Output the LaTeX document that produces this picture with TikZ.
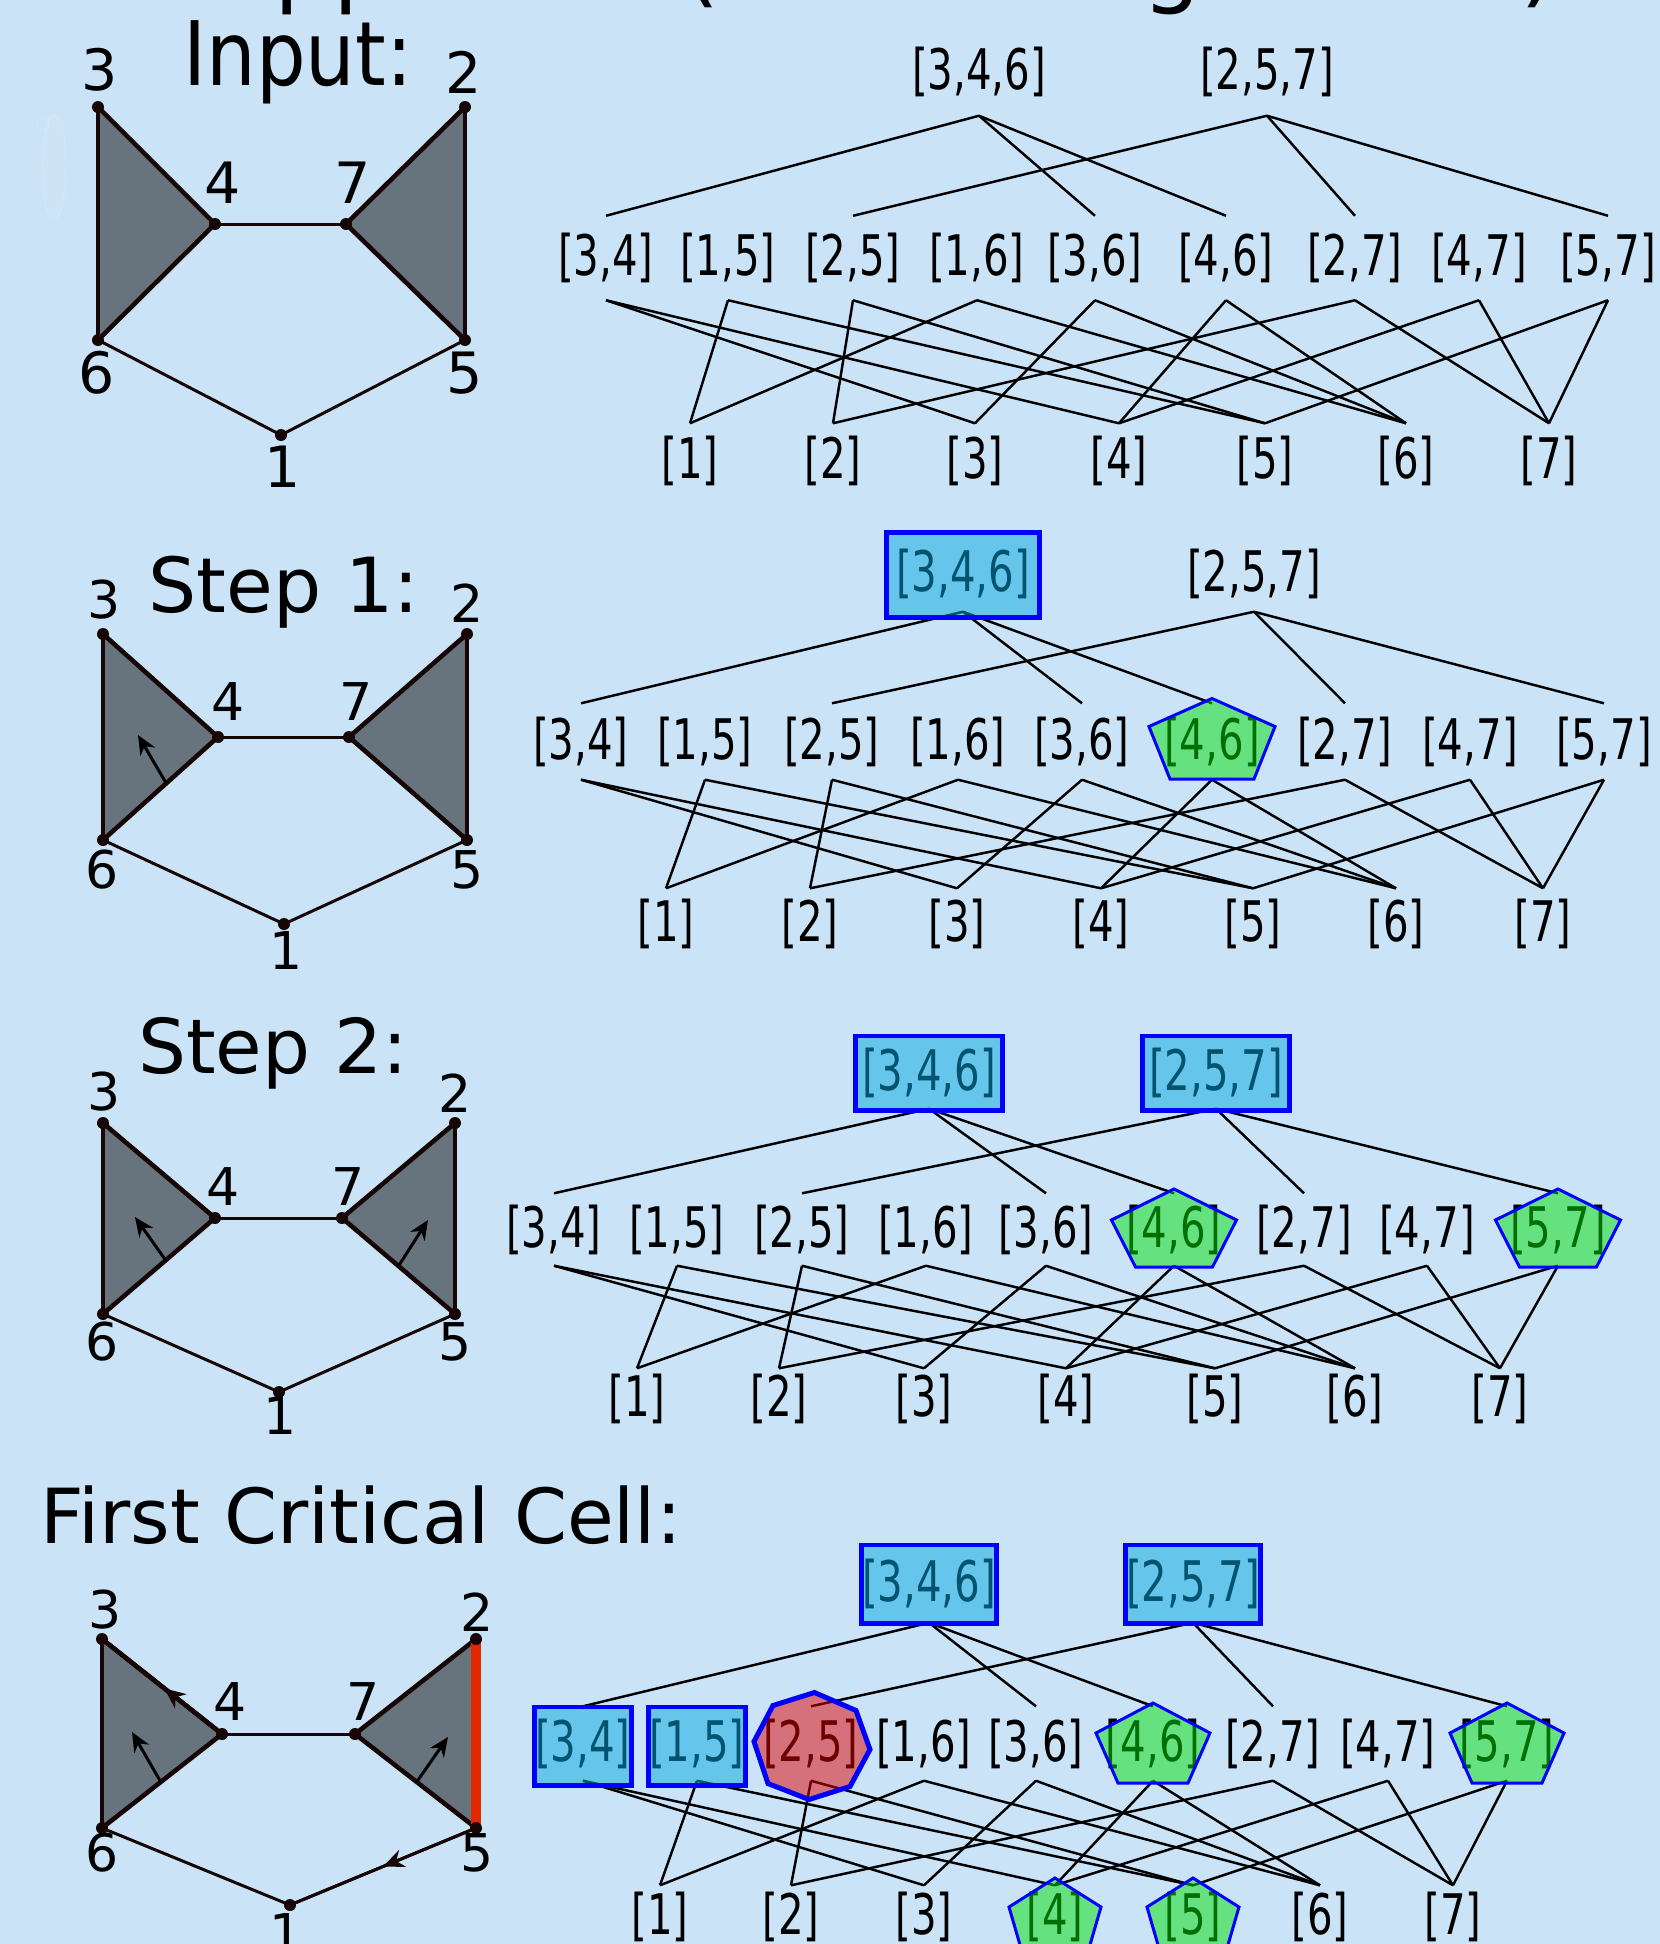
\documentclass[tikz,border=0pt]{standalone}
\usepackage{fontspec}
\setmainfont{DejaVu Sans}
\newfontfamily\hfont[FakeStretch=0.72]{DejaVu Sans}
\newfontfamily\ifont[FakeStretch=0.88]{DejaVu Sans}
\usetikzlibrary{arrows.meta,decorations.markings,calc}
\definecolor{bg}{RGB}{203,227,246}
\definecolor{tri}{RGB}{103,115,125}
\definecolor{edg}{RGB}{22,6,6}
\definecolor{boxfill}{RGB}{0,168,225}
\definecolor{pentfill}{RGB}{0,224,10}
\definecolor{heptfill}{RGB}{224,0,0}
\definecolor{critred}{RGB}{226,40,0}
\pgfdeclarelayer{bgcolor}
\pgfdeclarelayer{background}
\pgfsetlayers{bgcolor,background,main}
\newcommand\hasseedges[1]{%
  \foreach \e/\v in {34/3,34/4,15/1,15/5,25/2,25/5,16/1,16/6,36/3,36/6,46/4,46/6,27/2,27/7,47/4,47/7,57/5,57/7}{\draw[hedge] (#1M\e.south) -- (#1B\v.north);}
  \foreach \e in {34,36,46}{\draw[hedge] (#1T346.south) -- (#1M\e.north);}
  \foreach \e in {25,27,57}{\draw[hedge] (#1T257.south) -- (#1M\e.north);}
}
\newcommand\gedges[1]{%
  \begin{pgfonlayer}{background}
  \fill[tri] (#1V3.center) -- (#1V4.center) -- (#1V6.center) -- cycle;
  \fill[tri] (#1V2.center) -- (#1V7.center) -- (#1V5.center) -- cycle;
  \foreach \p/\q in {3/4,4/6,6/3,2/7,7/5,5/2}{\draw[triedge] (#1V\p.center) -- (#1V\q.center);}
  \foreach \p/\q in {4/7,6/1,1/5}{\draw[thinedge] (#1V\p.center) -- (#1V\q.center);}
  \end{pgfonlayer}
}
% pentagon: node, top y, half width, side y, bottom y, bottom half width
\newcommand\pent[6]{\draw[pentsty] ($(#1)+(0,#2)$) -- ($(#1)+(#3,#4)$) -- ($(#1)+(#6,#5)$) -- ($(#1)+(-#6,#5)$) -- ($(#1)+(-#3,#4)$) -- cycle;}
\begin{document}
\begin{tikzpicture}[x=0.01cm,y=-0.01cm,
  hl/.style={font=\hfont\fontsize{15.9}{18}\selectfont, inner sep=0pt},
  hnode/.style={hl, minimum height=#1},
  hedge/.style={line width=0.7pt, black},
  vdot/.style={circle, fill=edg, inner sep=0pt, minimum size=0.12cm},
  vlabA/.style={font=\fontsize{16.2}{18}\selectfont, inner sep=0pt},
  vlab/.style={font=\fontsize{14.8}{17}\selectfont, inner sep=0pt},
  triedge/.style={line width=1.3pt, edg},
  thinedge/.style={line width=0.85pt, edg},
  garrow/.style={line width=0.85pt, black, -{Stealth[length=5.5pt,width=4.8pt]}},
  midarrow/.style={postaction={decorate}, decoration={markings, mark=at position #1 with {\arrow{Stealth[length=6pt,width=5.2pt]}}}},
  hboxsty/.style={draw=blue, line width=1.42pt, fill=boxfill, fill opacity=0.5, draw opacity=1, inner sep=0pt},
  pentsty/.style={draw=blue, line width=0.85pt, fill=pentfill, fill opacity=0.5, draw opacity=1, line join=miter},
  heptsty/.style={draw=blue, line width=1.42pt, fill=heptfill, fill opacity=0.5, draw opacity=1},
  ttl/.style={inner sep=0pt, anchor=base}
]
\begin{pgfonlayer}{bgcolor}
\fill[bg] (0,0) rectangle (1660,1944);
\end{pgfonlayer}
\useasboundingbox (0,0) rectangle (1660,1944);

% title, mostly above the page (only descenders show)
\node[inner sep=0pt, anchor=base west, font=\fontsize{26.5}{28}\selectfont] (title) at (210,-5) {Approach (\kern0.18em Removing Faces\kern0.32em)};

% faint mark
\draw[white, draw opacity=0.12, fill=white, fill opacity=0.05, line width=0.4pt] (54,167) ellipse [x radius=0.12cm, y radius=0.52cm];
\draw[white, draw opacity=0.12, line width=0.4pt] (43,124) circle [radius=0.06cm];

% ================= Panel A: Input =================
\node[ttl, font=\ifont\fontsize{25.3}{28}\selectfont] (ttlA) at (298,85) {Input:};
\foreach \v/\x/\y in {1/281/435,2/465/107,3/98/107,4/215/224,5/465/340,6/98/340,7/346/224}{\node[vdot] (aV\v) at (\x,\y) {};}
\foreach \v/\x/\y in {1/283/467,2/464/72,3/100/70,4/223/183,5/465/373,6/97/373,7/353/183}{\node[vlabA] (aL\v) at (\x,\y) {\v};}
\gedges{a}

\node[hnode=0.86cm] (aT346) at (979,72) {[3,4,6]};
\node[hnode=0.86cm] (aT257) at (1267,72) {[2,5,7]};
\foreach \p/\q/\x in {3/4/606,1/5/728,2/5/853,1/6/977,3/6/1095,4/6/1226,2/7/1355,4/7/1479,5/7/1608}{\node[hnode=0.83cm] (aM\p\q) at (\x,258) {[\p,\q]};}
\foreach \v/\x in {1/690,2/833,3/975,4/1119,5/1265,6/1406,7/1549}{\node[hnode=0.74cm] (aB\v) at (\x,461) {[\v]};}
\hasseedges{a}

% ================= Panel B: Step 1 =================
\node[ttl, font=\fontsize{21.6}{24}\selectfont] (ttlB) at (284,612) {Step 1:};
\foreach \v/\x/\y in {1/284/924,2/467/634,3/103/634,4/218/737,5/467/840,6/103/840,7/349/737}{\node[vdot] (bV\v) at (\x,\y) {};}
\foreach \v/\x/\y in {1/286/951,2/467/603,3/104/600,4/228/702,5/467/870,6/102/870,7/356/702}{\node[vlab] (bL\v) at (\x,\y) {\v};}
\gedges{b}
\coordinate (bA1s) at ($(bV4)!0.45!(bV6)$);
\coordinate (bA1e) at (138,735);
\draw[garrow] (bA1s) -- (bA1e);

\node[hnode=0.74cm] (bT346) at (963,574) {[3,4,6]};
\node[hnode=0.74cm] (bT257) at (1254,574) {[2,5,7]};
\foreach \p/\q/\x in {3/4/581,1/5/705,2/5/832,1/6/958,3/6/1082,4/6/1212,2/7/1345,4/7/1470,5/7/1604}{\node[hnode=0.75cm] (bM\p\q) at (\x,741.5) {[\p,\q]};}
\foreach \v/\x in {1/666,2/810,3/957,4/1101,5/1253,6/1396,7/1543}{\node[hnode=0.70cm] (bB\v) at (\x,924) {[\v]};}
\hasseedges{b}
\node[hboxsty, minimum width=1.52cm, minimum height=0.84cm] (bX346) at (963,575) {};
\pent{bM46}{-43}{63}{-15}{37.5}{42}

% ================= Panel C: Step 2 =================
\node[ttl, font=\fontsize{21.5}{24}\selectfont] (ttlC) at (273,1073) {Step 2:};
\foreach \v/\x/\y in {1/279/1392,2/455/1123,3/103/1123,4/215/1218,5/455/1314,6/103/1314,7/342/1218}{\node[vdot] (cV\v) at (\x,\y) {};}
\foreach \v/\x/\y in {1/280/1416,2/455/1093,3/104/1092,4/223/1187,5/455/1342,6/102/1342,7/348/1187}{\node[vlab] (cL\v) at (\x,\y) {\v};}
\gedges{c}
\coordinate (cA1s) at ($(cV4)!0.44!(cV6)$);
\coordinate (cA1e) at (135,1217);
\draw[garrow] (cA1s) -- (cA1e);
\coordinate (cA2s) at ($(cV7)!0.5!(cV5)$);
\coordinate (cA2e) at (428,1220);
\draw[garrow] (cA2s) -- (cA2e);

\node[hnode=0.70cm] (cT346) at (929,1073) {[3,4,6]};
\node[hnode=0.70cm] (cT257) at (1216,1073) {[2,5,7]};
\foreach \p/\q/\x in {3/4/554,1/5/677,2/5/802,1/6/926,3/6/1046,4/6/1174,2/7/1304,4/7/1427,5/7/1558}{\node[hnode=0.71cm] (cM\p\q) at (\x,1229.5) {[\p,\q]};}
\foreach \v/\x in {1/637,2/779,3/924,4/1066,5/1215,6/1355,7/1500}{\node[hnode=0.60cm] (cB\v) at (\x,1399) {[\v]};}
\hasseedges{c}
\node[hboxsty, minimum width=1.46cm, minimum height=0.74cm] (cX346) at (929,1073) {};
\node[hboxsty, minimum width=1.46cm, minimum height=0.74cm] (cX257) at (1216,1073) {};
\pent{cM46}{-40.5}{62.5}{-9.5}{37.5}{38.5}
\pent{cM57}{-40.5}{62.5}{-9.5}{37.5}{38.5}

% ================= Panel D: First Critical Cell =================
\node[ttl, font=\fontsize{21.6}{24}\selectfont] (ttlD) at (361,1543) {First Critical Cell:};
\foreach \v/\x/\y in {1/290/1905,2/476/1639,3/102/1639,4/222/1734,5/476/1828,6/102/1828,7/355/1734}{\node[vdot] (dV\v) at (\x,\y) {};}
\foreach \v/\x/\y in {1/286/1933,2/477/1612,3/105/1610,4/230/1702,5/477/1853,6/102/1853,7/363/1702}{\node[vlab] (dL\v) at (\x,\y) {\v};}
\gedges{d}
\begin{pgfonlayer}{background}
\draw[line width=3.1pt, critred] (dV2.center) -- (dV5.center);
\end{pgfonlayer}
\draw[triedge, midarrow=0.48] (dV4) -- (dV3);
\draw[thinedge, midarrow=0.5] (dV5) -- (dV1);
\coordinate (dA1s) at ($(dV4)!0.51!(dV6)$);
\coordinate (dA1e) at (132,1732);
\draw[garrow] (dA1s) -- (dA1e);
\coordinate (dA2s) at ($(dV7)!0.51!(dV5)$);
\coordinate (dA2e) at (448,1737);
\draw[garrow] (dA2s) -- (dA2e);

\node[hnode=0.76cm] (dT346) at (929,1584) {[3,4,6]};
\node[hnode=0.76cm] (dT257) at (1193,1584) {[2,5,7]};
\foreach \p/\q/\x in {3/4/583,1/5/697,2/5/811,1/6/924,3/6/1036,4/6/1153,2/7/1273,4/7/1388,5/7/1507}{\node[hnode=0.73cm] (dM\p\q) at (\x,1743.5) {[\p,\q]};}
\foreach \v/\x in {1/660,2/791,3/924,4/1055,5/1193,6/1320,7/1453}{\node[hnode=0.62cm] (dB\v) at (\x,1917) {[\v]};}
\hasseedges{d}
\node[hboxsty, minimum width=1.34cm, minimum height=0.78cm] (dX346) at (929,1584) {};
\node[hboxsty, minimum width=1.34cm, minimum height=0.78cm] (dX257) at (1193,1584) {};
\node[hboxsty, minimum width=0.97cm, minimum height=0.78cm] (dX34) at (583,1746) {};
\node[hboxsty, minimum width=0.97cm, minimum height=0.78cm] (dX15) at (697,1746) {};
\draw[heptsty] ($(dM25)+(3.5,-51)$) -- ($(dM25)+(45,-33)$) -- ($(dM25)+(59,6)$) -- ($(dM25)+(39,43)$) -- ($(dM25)+(-2,56)$) -- ($(dM25)+(-43,40)$) -- ($(dM25)+(-57,-2)$) -- ($(dM25)+(-38,-38)$) -- cycle;
\pent{dM46}{-40.5}{57}{-10.5}{39.5}{35}
\pent{dM57}{-40.5}{57}{-10.5}{39.5}{35}
\pent{dB4}{-39}{46}{-10}{45}{30}
\pent{dB5}{-39}{46}{-10}{45}{30}
\end{tikzpicture}
\end{document}
